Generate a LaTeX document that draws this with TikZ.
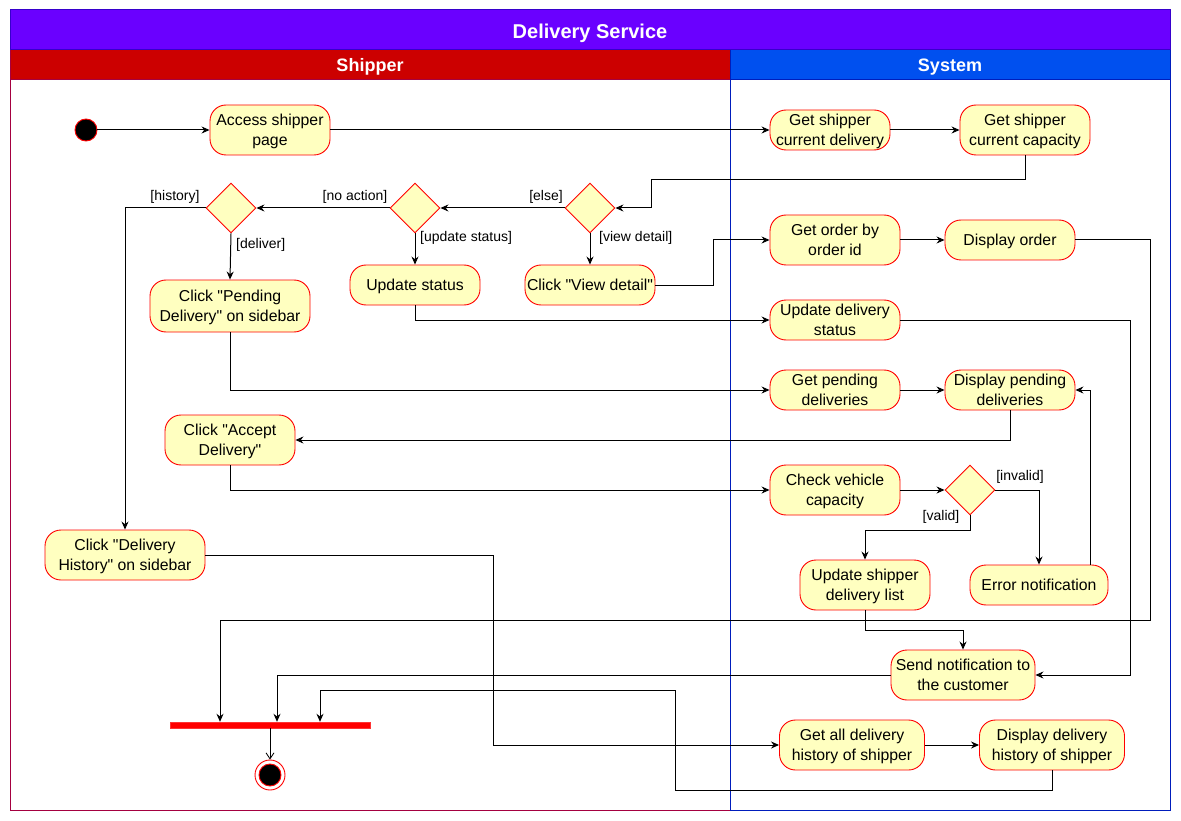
\documentclass[tikz,border=0pt]{standalone}
\usepackage{fontspec}
\setmainfont{Liberation Sans}[Ligatures=TeXOff]
\usetikzlibrary{shapes.geometric,arrows.meta,calc}
\definecolor{actfill}{HTML}{FFFFC0}
\definecolor{titlefill}{HTML}{6A00FF}
\definecolor{titledraw}{HTML}{3700CC}
\definecolor{shipfill}{HTML}{CC0000}
\definecolor{shipdraw}{HTML}{A50040}
\definecolor{sysfill}{HTML}{0050EF}
\definecolor{sysdraw}{HTML}{001DBC}
\begin{document}
\begin{tikzpicture}[x=1pt,y=-1pt,
  act/.style={draw=red, fill=actfill, rounded corners=16pt, align=center, inner sep=0pt, line width=0.9pt, text depth=-1pt, font=\fontsize{15.8}{20}\selectfont},
  dec/.style={diamond, draw=red, fill=actfill, inner sep=0pt, minimum width=50pt, minimum height=50pt, line width=0.9pt},
  flow/.style={draw=black, line width=1pt, -{Stealth[length=8pt,width=7pt]}},
  guard/.style={font=\fontsize{14}{16}\selectfont, inner sep=0pt},
  hdr/.style={text=white, font=\fontsize{18}{20}\selectfont\bfseries}
]
\useasboundingbox (0,0) rectangle (1181,821);
% frames
\filldraw[fill=white, draw=shipdraw, line width=1pt] (10,50) rectangle (730,810);
\filldraw[fill=white, draw=sysdraw, line width=1pt] (730,50) rectangle (1170,810);
\filldraw[fill=shipfill, draw=shipdraw, line width=1pt] (10,50) rectangle (730,80);
\filldraw[fill=sysfill, draw=sysdraw, line width=1pt] (730,50) rectangle (1170,80);
\filldraw[fill=titlefill, draw=titledraw, line width=1pt] (10,10) rectangle (1170,50);
\node[text=white, font=\fontsize{20}{22}\selectfont\bfseries] (title) at (590,33) {Delivery Service};
\node[hdr] (shiphdr) at (370,67) {Shipper};
\node[hdr] (syshdr) at (950,67) {System};

% nodes
\node[circle, fill=black, draw=red, line width=0.9pt, minimum size=22pt, inner sep=0pt] (init) at (86,130) {};
\node[act, minimum width=120pt, minimum height=50pt] (access) at (270,130) {Access shipper\\page};
\node[act, minimum width=120pt, minimum height=40pt] (gcd) at (830,130) {Get shipper\\current delivery};
\node[act, minimum width=130pt, minimum height=50pt] (gcc) at (1025,130) {Get shipper\\current capacity};
\node[dec] (d3) at (590,208) {};
\node[dec] (d2) at (415,208) {};
\node[dec] (d1) at (231,208) {};
\node[act, minimum width=130pt, minimum height=40pt] (viewd) at (590,285) {Click "View detail"};
\node[act, minimum width=130pt, minimum height=40pt] (upst) at (415,285) {Update status};
\node[act, minimum width=160pt, minimum height=52pt] (pend) at (230,306) {Click "Pending\\Delivery" on sidebar};
\node[act, minimum width=130pt, minimum height=50pt] (gob) at (835,240) {Get order by\\order id};
\node[act, minimum width=130pt, minimum height=40pt] (dord) at (1010,240) {Display order};
\node[act, minimum width=130pt, minimum height=40pt] (uds) at (835,320) {Update delivery\\status};
\node[act, minimum width=130pt, minimum height=40pt] (gpd) at (835,390) {Get pending\\deliveries};
\node[act, minimum width=130pt, minimum height=40pt] (dpd) at (1010,390) {Display pending\\deliveries};
\node[act, minimum width=130pt, minimum height=50pt] (accept) at (230,440) {Click "Accept\\Delivery"};
\node[act, minimum width=130pt, minimum height=50pt] (chk) at (835,490) {Check vehicle\\capacity};
\node[dec] (d4) at (970,490) {};
\node[act, minimum width=130pt, minimum height=50pt] (usl) at (865,585) {Update shipper\\delivery list};
\node[act, minimum width=138pt, minimum height=40pt] (err) at (1039,585) {Error notification};
\node[act, minimum width=160pt, minimum height=50pt] (hist) at (125,555) {Click "Delivery\\History" on sidebar};
\node[act, minimum width=144pt, minimum height=50pt] (sendn) at (963,675) {Send notification to\\the customer};
\node[act, minimum width=145pt, minimum height=50pt] (gah) at (852,745) {Get all delivery\\history of shipper};
\node[act, minimum width=145pt, minimum height=50pt] (dh) at (1052,745) {Display delivery\\history of shipper};
\node[rectangle, fill=red, draw=red!80, minimum width=200pt, minimum height=6pt, inner sep=0pt] (join) at (270,725) {};
\node[circle, fill=white, draw=red, line width=0.9pt, minimum size=30pt, inner sep=0pt] (final) at (270,775) {};
\node[circle, fill=black, draw=red, line width=0.9pt, minimum size=22pt, inner sep=0pt] (finalin) at (270,775) {};

% guards
\node[guard] (gelse) at (546,197) {[else]};
\node[guard] (gnoact) at (355,197) {[no action]};
\node[guard] (ghist) at (175,197) {[history]};
\node[guard, anchor=west] (gupd) at (420,238) {[update status]};
\node[guard, anchor=west] (gview) at (599,238) {[view detail]};
\node[guard, anchor=west] (gdel) at (236,245) {[deliver]};
\node[guard] (gvalid) at (941,517) {[valid]};
\node[guard] (ginvalid) at (1020,477) {[invalid]};

% edges
\draw[flow] (init) -- (access);
\draw[flow] (access) -- (gcd);
\draw[flow] (gcd) -- (gcc);
\draw[flow] (gcc.south) |- (651,180) |- (d3.east);
\draw[flow] (d3.west) -- (d2.east);
\draw[flow] (d3.south) -- (viewd.north);
\draw[flow] (d2.west) -- (d1.east);
\draw[flow] (d2.south) -- (upst.north);
\draw[flow] (d1.south) -- (pend.north);
\draw[flow] (d1.west) -| (hist.north);
\draw[flow] (viewd.east) -- ++(58,0) |- (gob.west);
\draw[flow] (gob) -- (dord);
\draw[flow] (dord.east) -| (1150,620) -| ([xshift=-50pt]join.north);
\draw[flow] (upst.south) |- (uds.west);
\draw[flow] (uds.east) -- ++(230,0) |- (sendn.east);
\draw[flow] (pend.south) |- (gpd.west);
\draw[flow] (gpd) -- (dpd);
\draw[flow] (dpd.south) |- (accept.east);
\draw[flow] (accept.south) |- (chk.west);
\draw[flow] (chk) -- (d4.west);
\draw[flow] (d4.south) -- ++(0,15) -| (usl.north);
\draw[flow] (d4.east) -| (err.north);
\draw[flow] ([xshift=51pt]err.north) |- (dpd.east);
\draw[flow] (usl.south) -- ++(0,20) -| (sendn.north);
\draw[flow] (sendn.west) -| ([xshift=7pt]join.north);
\draw[flow] (hist.east) -- ++(288,0) |- (gah.west);
\draw[flow] (gah) -- (dh);
\draw[flow] (dh.south) -- ++(0,20) -| (675,690) -| ([xshift=50pt]join.north);
\draw[draw=black, line width=0.8pt, -{Straight Barb[length=6pt,width=8pt]}] (join.south) -- (final.north);
\end{tikzpicture}
\end{document}
